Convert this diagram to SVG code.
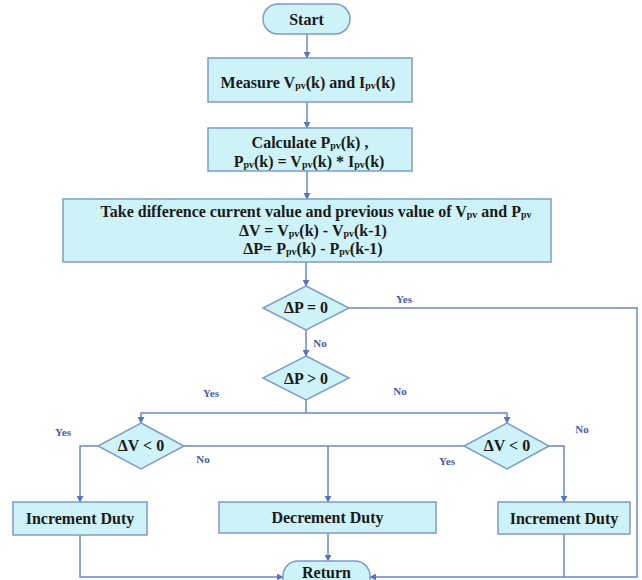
<svg xmlns="http://www.w3.org/2000/svg" width="642" height="580" viewBox="0 0 642 580">
<defs>
<style>
.box{fill:#cdf3f9;stroke:#7f9bc9;stroke-width:1.5}
.t{font-family:"Liberation Serif","Times New Roman",serif;font-weight:bold;font-size:16px;fill:#1a1a1a;text-anchor:middle}
.s{font-size:10px}
.lbl{font-family:"Liberation Serif","Times New Roman",serif;font-weight:bold;font-size:11px;fill:#4a5aa8;text-anchor:middle}
.c{fill:none;stroke:#6b86c8;stroke-width:1.5}
</style>
<marker id="a" viewBox="0 0 10 10" refX="9" refY="5" markerWidth="7" markerHeight="7" orient="auto" markerUnits="userSpaceOnUse">
<path d="M0,0 L10,5 L0,10 z" fill="#5872c4"/>
</marker>
</defs>
<rect width="642" height="580" fill="#ffffff"/>
<g id="connectors">
<path class="c" d="M307,34 V58" marker-end="url(#a)"/>
<path class="c" d="M307,102 V128" marker-end="url(#a)"/>
<path class="c" d="M307,171 V199" marker-end="url(#a)"/>
<path class="c" d="M306,262 V286" marker-end="url(#a)"/>
<path class="c" d="M306,330 V356" marker-end="url(#a)"/>
<path class="c" d="M349,308 H637 V577 H370" marker-end="url(#a)"/>
<path class="c" d="M306,400 V413"/>
<path class="c" d="M306,413 H141 V423" marker-end="url(#a)"/>
<path class="c" d="M306,413 H507 V423" marker-end="url(#a)"/>
<path class="c" d="M98,446 H80 V502" marker-end="url(#a)"/>
<path class="c" d="M184,446 H464"/>
<path class="c" d="M328,446 V502" marker-end="url(#a)"/>
<path class="c" d="M549,446 H564 V502" marker-end="url(#a)"/>
<path class="c" d="M80,535 V577 H283" marker-end="url(#a)"/>
<path class="c" d="M328,533 V561" marker-end="url(#a)"/>
<path class="c" d="M564,534 V577"/>
</g>
<g id="start">
<rect class="box" x="263" y="4" width="87" height="30" rx="15"/>
<text class="t" x="306.5" y="25">Start</text>
</g>
<g id="measure">
<rect class="box" x="208" y="58" width="204" height="44"/>
<text class="t" x="308" y="88">Measure V<tspan class="s" dy="1">pv</tspan><tspan dy="-1">(k) and I</tspan><tspan class="s" dy="1">pv</tspan><tspan dy="-1">(k)</tspan></text>
</g>
<g id="calculate">
<rect class="box" x="208" y="128" width="204" height="43"/>
<text class="t" x="310" y="148">Calculate P<tspan class="s" dy="1">pv</tspan><tspan dy="-1">(k) ,</tspan></text>
<text class="t" x="309" y="167">P<tspan class="s" dy="1">pv</tspan><tspan dy="-1">(k) = V</tspan><tspan class="s" dy="1">pv</tspan><tspan dy="-1">(k) * I</tspan><tspan class="s" dy="1">pv</tspan><tspan dy="-1">(k)</tspan></text>
</g>
<g id="difference">
<rect class="box" x="63" y="199" width="488" height="63"/>
<text class="t" x="316" y="217">Take difference current value and previous value of V<tspan class="s" dy="1">pv</tspan><tspan dy="-1"> and P</tspan><tspan class="s" dy="1">pv</tspan></text>
<text class="t" x="313" y="236">ΔV = V<tspan class="s" dy="1">pv</tspan><tspan dy="-1">(k) - V</tspan><tspan class="s" dy="1">pv</tspan><tspan dy="-1">(k-1)</tspan></text>
<text class="t" x="313" y="254">ΔP= P<tspan class="s" dy="1">pv</tspan><tspan dy="-1">(k) - P</tspan><tspan class="s" dy="1">pv</tspan><tspan dy="-1">(k-1)</tspan></text>
</g>
<g id="dp0">
<polygon class="box" points="306,286 349,308 306,330 263,308"/>
<text class="t" x="306" y="313">ΔP = 0</text>
</g>
<g id="dpgt0">
<polygon class="box" points="306,356 349,378 306,400 263,378"/>
<text class="t" x="306" y="384">ΔP &gt; 0</text>
</g>
<g id="dvlt0-left">
<polygon class="box" points="141,423 184,446 141,469 98,446"/>
<text class="t" x="141" y="451">ΔV &lt; 0</text>
</g>
<g id="dvlt0-right">
<polygon class="box" points="507,423 549,446 507,469 464,446"/>
<text class="t" x="507" y="451">ΔV &lt; 0</text>
</g>
<g id="inc-left">
<rect class="box" x="13" y="502" width="134" height="33"/>
<text class="t" x="80" y="524">Increment Duty</text>
</g>
<g id="dec">
<rect class="box" x="219" y="502" width="217" height="31"/>
<text class="t" x="327.5" y="523">Decrement Duty</text>
</g>
<g id="inc-right">
<rect class="box" x="498" y="502" width="132" height="32"/>
<text class="t" x="564" y="524">Increment Duty</text>
</g>
<g id="return">
<rect class="box" x="283" y="561" width="87" height="34" rx="15"/>
<text class="t" x="326.5" y="578">Return</text>
</g>
<g id="labels">
<text class="lbl" x="404" y="303">Yes</text>
<text class="lbl" x="320" y="347">No</text>
<text class="lbl" x="400" y="395">No</text>
<text class="lbl" x="211" y="397">Yes</text>
<text class="lbl" x="63" y="436">Yes</text>
<text class="lbl" x="203" y="463">No</text>
<text class="lbl" x="447" y="465">Yes</text>
<text class="lbl" x="582" y="433">No</text>
</g>
</svg>
